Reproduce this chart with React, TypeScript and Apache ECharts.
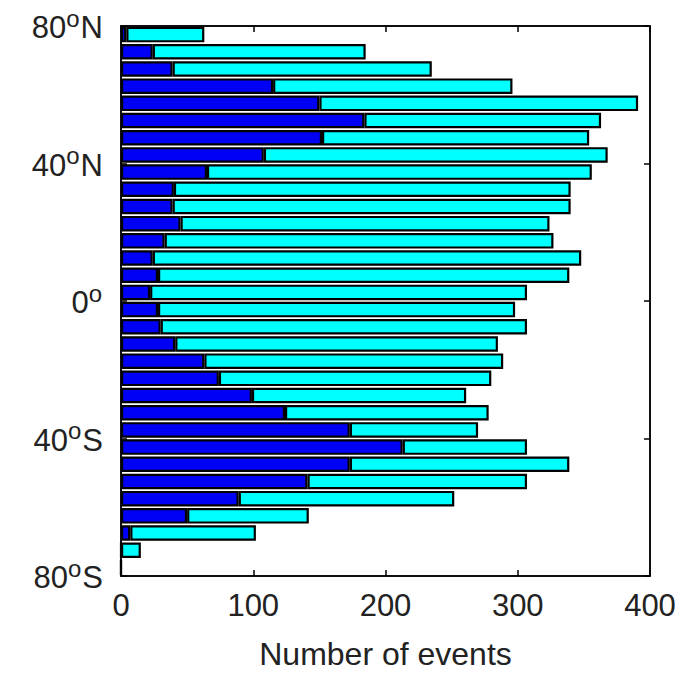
import React, { useEffect, useRef } from "react";
import * as echarts from "echarts";

// Latitude bins (centres, degrees), north to south
const latBins = [
  "77.5", "72.5", "67.5", "62.5", "57.5", "52.5", "47.5", "42.5",
  "37.5", "32.5", "27.5", "22.5", "17.5", "12.5", "7.5", "2.5",
  "-2.5", "-7.5", "-12.5", "-17.5", "-22.5", "-27.5", "-32.5", "-37.5",
  "-42.5", "-47.5", "-52.5", "-57.5", "-62.5", "-67.5", "-72.5", "-77.5",
];

// Dark blue segment (number of events)
const blueCounts = [
  4, 24, 39, 115, 150, 184, 152, 108,
  65, 40, 39, 45, 33, 24, 28, 22,
  28, 30, 41, 63, 74, 99, 124, 173,
  213, 173, 141, 89, 50, 7, 0, 0,
];

// Cyan segment stacked on the blue one (number of events)
const cyanCounts = [
  59, 161, 196, 181, 241, 179, 202, 260,
  291, 300, 301, 279, 294, 324, 311, 285,
  270, 277, 244, 226, 206, 162, 154, 97,
  94, 166, 166, 163, 92, 95, 15, 0,
];

const xTicks = [0, 100, 200, 300, 400];
const latTicks = [-80, -40, 0, 40, 80];

const FONT = "Arial, 'Liberation Sans', Helvetica, sans-serif";
const TEXT_COLOR = "#222";

function latLabel(v: number): string {
  if (v === 0) return "{n|0}{d|o}";
  return `{n|${Math.abs(v)}}{d|o}{n|${v > 0 ? "N" : "S"}}`;
}

export default function App() {
  const ref = useRef<HTMLDivElement>(null);

  useEffect(() => {
    if (!ref.current) return;
    const chart = echarts.init(ref.current, null, { renderer: "svg" });
    const tickStyle = { show: true, inside: true, length: 6, lineStyle: { color: "#000", width: 1.5 } };
    const lineStyle = { show: true, onZero: false, lineStyle: { color: "#000", width: 1.5 } };
    chart.setOption({
      animation: false,
      backgroundColor: "#fff",
      grid: {
        left: 121,
        right: 47,
        top: 26,
        bottom: 94,
        show: true,
        borderColor: "#000",
        borderWidth: 1.5,
        backgroundColor: "transparent",
      },
      xAxis: [
        {
          type: "value",
          position: "bottom",
          min: xTicks[0],
          max: xTicks[xTicks.length - 1],
          interval: 100,
          axisLine: lineStyle,
          axisTick: tickStyle,
          splitLine: { show: false },
          axisLabel: {
            margin: 14,
            fontSize: 31,
            fontFamily: FONT,
            color: TEXT_COLOR,
          },
          name: "Number of events",
          nameLocation: "middle",
          nameGap: 62,
          nameTextStyle: { fontSize: 32, fontFamily: FONT, color: TEXT_COLOR },
        },
        {
          type: "value",
          position: "top",
          min: xTicks[0],
          max: xTicks[xTicks.length - 1],
          interval: 100,
          axisLine: lineStyle,
          axisTick: tickStyle,
          axisLabel: { show: false },
          splitLine: { show: false },
        },
      ],
      yAxis: [
        {
          type: "category",
          data: latBins,
          inverse: true,
          show: false,
        },
        {
          type: "value",
          position: "left",
          min: latTicks[0],
          max: latTicks[latTicks.length - 1],
          interval: 40,
          axisLine: lineStyle,
          axisTick: tickStyle,
          splitLine: { show: false },
          axisLabel: {
            margin: 18,
            formatter: (v: number) => latLabel(v),
            rich: {
              n: { fontSize: 31, fontFamily: FONT, color: TEXT_COLOR, lineHeight: 34, verticalAlign: "bottom" },
              d: {
                fontSize: 24,
                fontFamily: FONT,
                color: TEXT_COLOR,
                lineHeight: 22,
                verticalAlign: "bottom",
                padding: [0, 1, 13, 0],
              },
            },
          },
        },
        {
          type: "value",
          position: "right",
          min: latTicks[0],
          max: latTicks[latTicks.length - 1],
          interval: 40,
          axisLine: lineStyle,
          axisTick: tickStyle,
          axisLabel: { show: false },
          splitLine: { show: false },
        },
      ],
      series: [
        {
          name: "blue",
          type: "bar",
          stack: "events",
          xAxisIndex: 0,
          yAxisIndex: 0,
          data: blueCounts,
          barCategoryGap: "10%",
          itemStyle: { color: "#0000f5", borderColor: "#000", borderWidth: 2.2 },
        },
        {
          name: "cyan",
          type: "bar",
          stack: "events",
          xAxisIndex: 0,
          yAxisIndex: 0,
          data: cyanCounts,
          barCategoryGap: "10%",
          itemStyle: { color: "#00ffff", borderColor: "#000", borderWidth: 2.2 },
        },
      ],
    });
    return () => chart.dispose();
  }, []);

  return (
    <div
      ref={ref}
      style={{ position: "fixed", left: 0, top: 0, width: 697, height: 675, background: "#fff" }}
    />
  );
}
